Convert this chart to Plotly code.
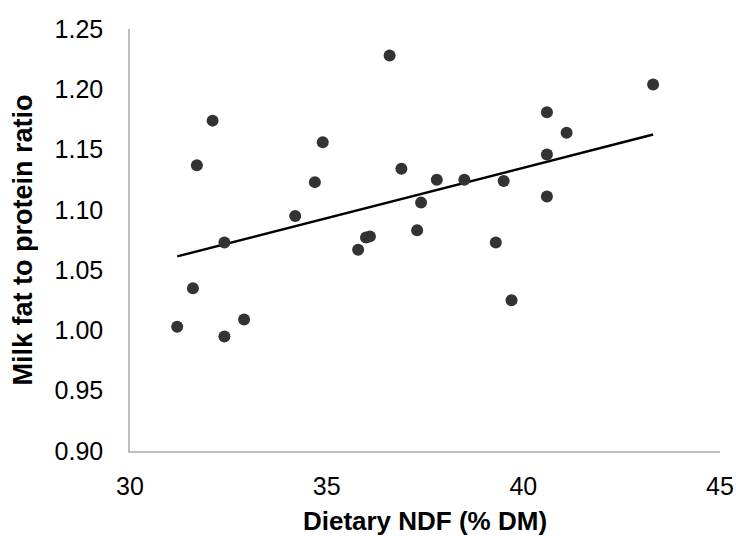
import numpy as np
import plotly.graph_objects as go

ndf = [31.2, 31.6, 31.7, 32.1, 32.4, 32.4, 32.9, 34.2, 34.7, 34.9, 35.8, 36.0, 36.1,
       36.6, 36.9, 37.3, 37.4, 37.8, 38.5, 39.3, 39.5, 39.7, 40.6, 40.6, 40.6, 41.1, 43.3]
ratio = [1.003, 1.035, 1.137, 1.174, 1.073, 0.995, 1.009, 1.095, 1.123, 1.156, 1.067, 1.077, 1.078,
         1.228, 1.134, 1.083, 1.106, 1.125, 1.125, 1.073, 1.124, 1.025, 1.181, 1.146, 1.111, 1.164, 1.204]

x_ticks = [30, 35, 40, 45]
y_ticks = [0.90, 0.95, 1.00, 1.05, 1.10, 1.15, 1.20, 1.25]

slope, intercept = np.polyfit(ndf, ratio, 1)
x_fit = [min(ndf), max(ndf)]
y_fit = [slope * v + intercept for v in x_fit]

font = "Liberation Sans, Arial, sans-serif"

fig = go.Figure()
fig.add_trace(go.Scatter(x=x_fit, y=y_fit, mode="lines",
                         line=dict(color="black", width=2.5), showlegend=False, hoverinfo="skip"))
fig.add_trace(go.Scatter(x=ndf, y=ratio, mode="markers",
                         marker=dict(color="#333333", size=12), showlegend=False))

fig.update_layout(
    width=736, height=536,
    margin=dict(l=130, r=16, t=29, b=85),
    paper_bgcolor="white", plot_bgcolor="white",
    font=dict(family=font, size=25, color="black"),
    xaxis=dict(range=[30, 45], tickvals=x_ticks, ticktext=[str(v) for v in x_ticks],
               showgrid=False, zeroline=False, showline=True, linecolor="#bfbfbf", linewidth=1.5,
               ticks="", ticklabelstandoff=12, automargin=False,
               title=dict(text="<b>Dietary NDF (% DM)</b>", font=dict(size=26), standoff=14)),
    yaxis=dict(range=[0.90, 1.25], tickvals=y_ticks, ticktext=[f"{v:.2f}" for v in y_ticks],
               showgrid=False, zeroline=False, showline=True, linecolor="#bfbfbf", linewidth=1.5,
               ticks="", ticklabelstandoff=20, automargin=False,
               title=dict(text="<b>Milk fat to protein ratio</b>", font=dict(size=27), standoff=14)),
)

fig.write_html("out.html")
